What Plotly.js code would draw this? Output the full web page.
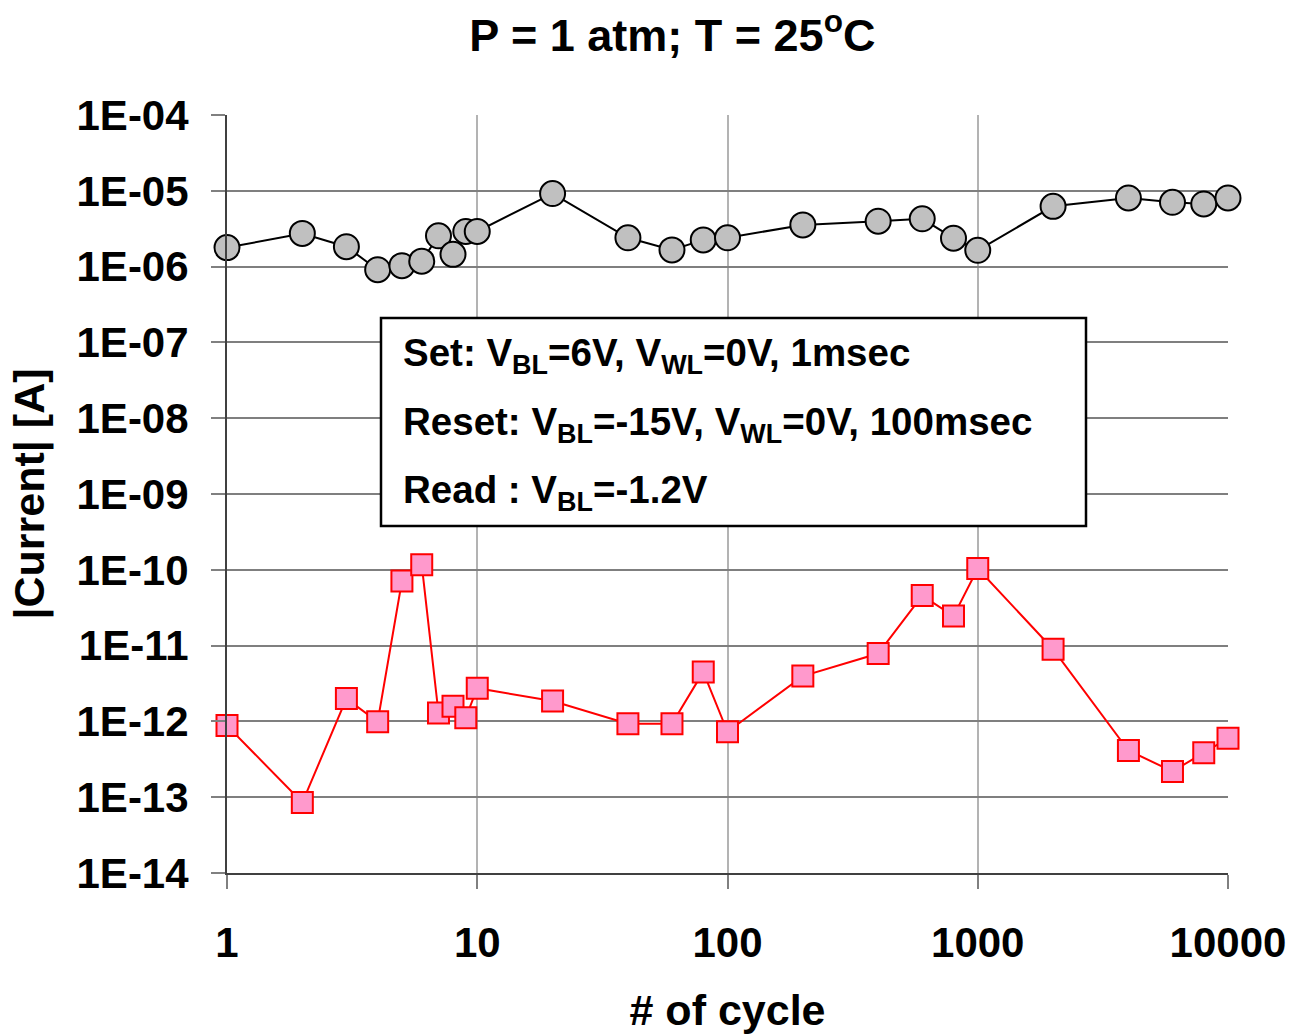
<!DOCTYPE html>
<html>
<head>
<meta charset="utf-8">
<script src="https://cdn.plot.ly/plotly-3.0.1.min.js"></script>
<style>html,body{margin:0;padding:0;background:#fff;}#chart{width:1293px;height:1034px;}</style>
</head>
<body>
<div id="chart"></div>
<script>
const cycles = [1,2,3,4,5,6,7,8,9,10,20,40,60,80,100,200,400,600,800,1000,2000,4000,6000,8000,10000];
const setCurrent = [1.78e-6,2.74e-6,1.83e-6,9.1e-7,1.03e-6,1.18e-6,2.55e-6,1.45e-6,2.91e-6,2.91e-6,9.2e-6,2.4e-6,1.66e-6,2.25e-6,2.4e-6,3.55e-6,3.97e-6,4.27e-6,2.37e-6,1.64e-6,6.24e-6,8.05e-6,7.05e-6,6.7e-6,8.05e-6];
const resetCurrent = [8.8e-13,8.5e-14,2.0e-12,9.9e-13,7.1e-11,1.17e-10,1.29e-12,1.58e-12,1.12e-12,2.74e-12,1.86e-12,9.3e-13,9.3e-13,4.5e-12,7.3e-13,3.96e-12,7.85e-12,4.57e-11,2.45e-11,1.04e-10,8.95e-12,4.13e-13,2.19e-13,3.85e-13,5.98e-13];
const xTickVals = [1,10,100,1000,10000];
const xTickText = ['1','10','100','1000','10000'];
const yTickVals = [1e-14,1e-13,1e-12,1e-11,1e-10,1e-9,1e-8,1e-7,1e-6,1e-5,1e-4];
const yTickText = ['1E-14','1E-13','1E-12','1E-11','1E-10','1E-09','1E-08','1E-07','1E-06','1E-05','1E-04'];
const titleText = 'P = 1 atm; T = 25<sup>o</sup>C';
const xTitle = '# of cycle';
const yTitle = '|Current| [A]';
const boxLines = [
  'Set: V<sub>BL</sub>=6V, V<sub>WL</sub>=0V, 1msec',
  'Reset: V<sub>BL</sub>=-15V, V<sub>WL</sub>=0V, 100msec',
  'Read : V<sub>BL</sub>=-1.2V'
];

const boldFont = 'Liberation Sans, Arial, sans-serif';

const traces = [
  {
    x: cycles, y: setCurrent, type: 'scatter', mode: 'lines+markers',
    line: {color: '#000000', width: 2},
    marker: {symbol: 'circle', size: 25, color: '#c0c0c0', line: {color: '#000000', width: 2}},
    showlegend: false, cliponaxis: false
  },
  {
    x: cycles, y: resetCurrent, type: 'scatter', mode: 'lines+markers',
    line: {color: '#ff0000', width: 2},
    marker: {symbol: 'square', size: 21, color: '#ff99cc', line: {color: '#ff0000', width: 2}},
    showlegend: false, cliponaxis: false
  }
];

// plot area pixels: left 227, right 1228, top 115, bottom 873
const L = 227, R = 1228, T = 115, B = 873;
const px = x => (x - L) / (R - L);
const py = y => (B - y) / (B - T);

const annotations = boxLines.map((t, i) => ({
  xref: 'paper', yref: 'paper', x: px(401), y: py([355, 424, 492][i]),
  xanchor: 'left', yanchor: 'middle', showarrow: false, text: '<b>' + t + '</b>',
  font: {family: boldFont, size: 38.5, color: '#000'}
}));

const layout = {
  width: 1293, height: 1034,
  margin: {l: L, r: 1293 - R, t: T, b: 1034 - B},
  paper_bgcolor: '#ffffff', plot_bgcolor: '#ffffff',
  title: {text: '<b>' + titleText + '</b>', x: 0.52, xanchor: 'center', y: 0.966, yanchor: 'middle',
          font: {family: boldFont, size: 45, color: '#000'}},
  xaxis: {
    type: 'log', range: [0, 4], tickvals: xTickVals, ticktext: xTickText,
    tickfont: {family: boldFont, size: 42, color: '#000', weight: 'bold'},
    ticks: 'outside', ticklen: 14, tickcolor: '#808080', tickwidth: 2,
    ticklabelstandoff: 18,
    showgrid: true, gridcolor: '#b3b3b3', gridwidth: 2,
    showline: true, linecolor: '#404040', linewidth: 2, zeroline: false,
    title: {text: '<b>' + xTitle + '</b>', font: {family: boldFont, size: 43, color: '#000'}, standoff: 30}
  },
  yaxis: {
    type: 'log', range: [-14, -4], tickvals: yTickVals, ticktext: yTickText,
    tickfont: {family: boldFont, size: 42, color: '#000', weight: 'bold'},
    ticks: 'outside', ticklen: 14, tickcolor: '#808080', tickwidth: 2,
    ticklabelstandoff: 14,
    showgrid: true, gridcolor: '#7f7f7f', gridwidth: 2,
    showline: true, linecolor: '#404040', linewidth: 2, zeroline: false,
    title: {text: '<b>' + yTitle + '</b>', font: {family: boldFont, size: 43, color: '#000'}, standoff: 18}
  },
  shapes: [
    {type: 'rect', xref: 'paper', yref: 'paper', x0: px(381), x1: px(1086), y0: py(526), y1: py(318),
     line: {color: '#000', width: 2.5}, fillcolor: '#ffffff', layer: 'above'}
  ],
  annotations: annotations
};

Plotly.newPlot('chart', traces, layout, {displayModeBar: false, staticPlot: true});
</script>
</body>
</html>
